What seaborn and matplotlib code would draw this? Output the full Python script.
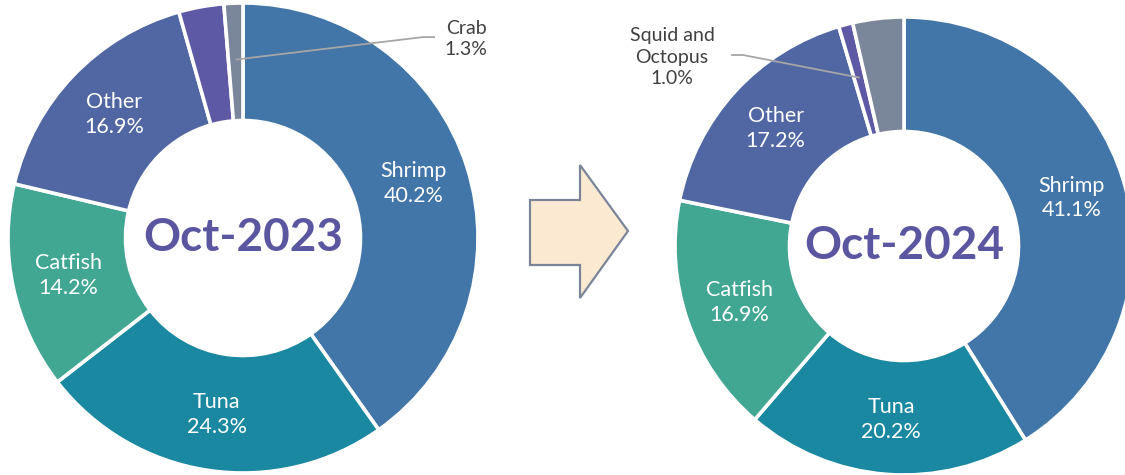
import numpy as np
import matplotlib
matplotlib.use("Agg")
import matplotlib.pyplot as plt
from matplotlib.patches import Polygon
import seaborn as sns

# ---- data ----
categories = ["Shrimp", "Tuna", "Catfish", "Other", "Squid and Octopus", "Crab"]
short_names = ["Shrimp", "Tuna", "Catfish", "Other", "Squid and\nOctopus", "Crab"]
values_2023 = [40.2, 24.3, 14.2, 16.9, 3.1, 1.3]
values_2024 = [41.1, 20.2, 16.9, 17.2, 1.0, 3.6]
titles = ["Oct-2023", "Oct-2024"]
inside_labels = ["Shrimp", "Tuna", "Catfish", "Other"]
callout_2023 = "Crab"
callout_2024 = "Squid and Octopus"

colors = ["#4275a8", "#1a88a0", "#41a692", "#5067a3", "#5e59a4", "#7a879a"]
center_color = "#5b56a0"

sns.set_theme(style="white")
plt.rcParams["font.family"] = ["Lato", "DejaVu Sans"]

W, H = 1125, 475
fig = plt.figure(figsize=(W / 100, H / 100), dpi=100)
fig.patch.set_facecolor("white")

# background overlay for the arrow
bg = fig.add_axes([0, 0, 1, 1], zorder=0)
bg.set_xlim(0, W)
bg.set_ylim(H, 0)
bg.axis("off")
arrow_pts = [(530, 200), (580, 200), (580, 165), (628, 231), (580, 298), (580, 265), (530, 265)]
bg.add_patch(Polygon(arrow_pts, closed=True, facecolor="#fce9d2", edgecolor="#7a8597", linewidth=1.6))


def draw_donut(rect, values, title, callout, callout_elbow, callout_end, callout_text_pos):
    ax = fig.add_axes(rect, zorder=1)
    wedges, _ = ax.pie(values, colors=colors, startangle=90, counterclock=False, radius=1.0,
                       wedgeprops=dict(width=0.5, edgecolor="white", linewidth=2.6))
    ax.set_xlim(-1, 1)
    ax.set_ylim(-1, 1)
    ax.set_aspect("equal")
    ax.axis("off")
    for w, cat, short, v in zip(wedges, categories, short_names, values):
        mid = np.deg2rad((w.theta1 + w.theta2) / 2)
        r = 0.76
        x, y = r * np.cos(mid), r * np.sin(mid)
        if cat in inside_labels:
            ax.text(x, y, f"{short}\n{v:.1f}%", ha="center", va="center", color="white",
                    fontsize=15.5, linespacing=1.3)
        elif cat == callout:
            ax.plot([x, callout_elbow[0], callout_end[0]], [y, callout_elbow[1], callout_end[1]],
                    color="#a6a6a6", linewidth=1.3, solid_capstyle="butt")
            ax.text(callout_text_pos[0], callout_text_pos[1], f"{short}\n{v:.1f}%", ha="center",
                    va="center", color="#404040", fontsize=14, linespacing=1.3)
    ax.text(0, 0, title, ha="center", va="center", color=center_color, fontsize=33,
            fontweight="bold")
    return ax


# left donut: centre (243, 238), R = 235 px
draw_donut([8 / W, (H - 473) / H, 470 / W, 470 / H], values_2023, titles[0], callout_2023,
           (0.766, 0.855), (0.817, 0.855), (0.949, 0.847))
# right donut: centre (904, 246), R = 229 px
draw_donut([675 / W, (H - 475) / H, 458 / W, 458 / H], values_2024, titles[1], callout_2024,
           (-0.703, 0.834), (-0.755, 0.834), (-1.013, 0.825))

fig.savefig("out.png", dpi=100, facecolor="white")
